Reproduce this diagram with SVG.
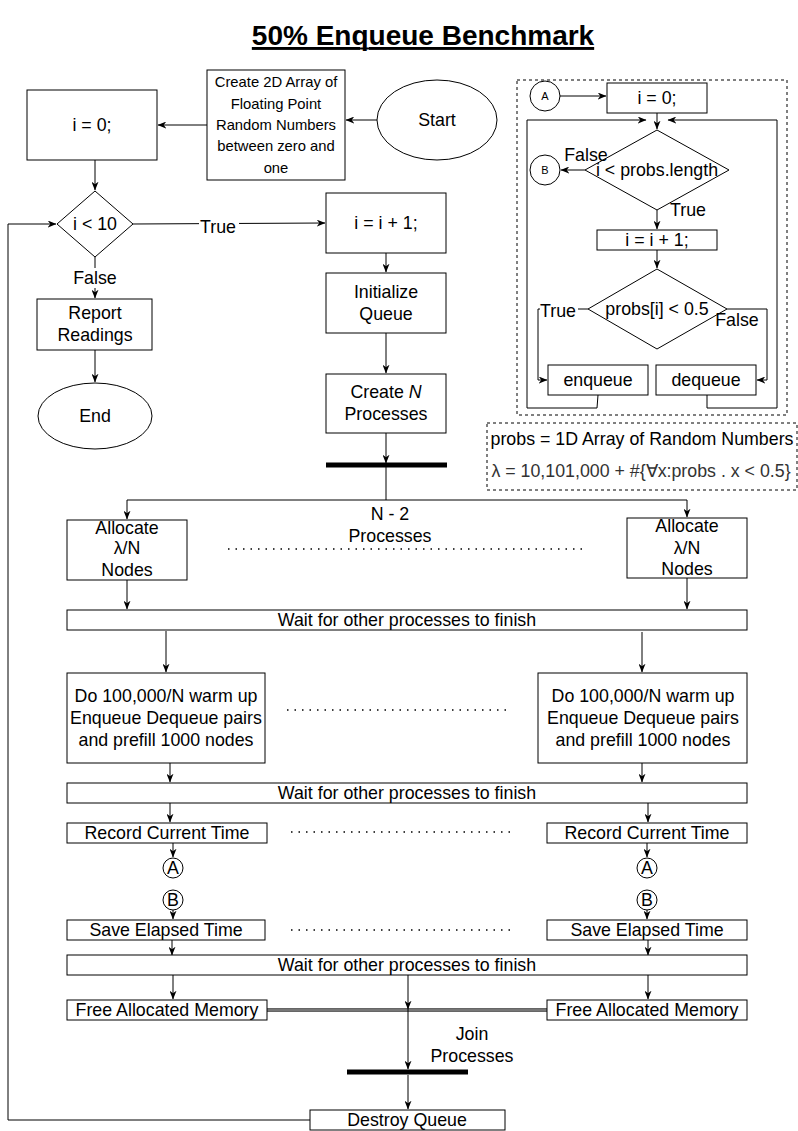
<svg xmlns="http://www.w3.org/2000/svg" width="798" height="1131" viewBox="0 0 798 1131">
<defs>
<marker id="ah" viewBox="0 0 10 8" refX="9.5" refY="4" markerWidth="9" markerHeight="7" orient="auto" markerUnits="userSpaceOnUse"><path d="M0,0 L10,4 L0,8 L3,4 z" fill="#000"/></marker>
<style>
text{font-family:"Liberation Sans",Arial,sans-serif;font-size:17.8px;fill:#000;text-anchor:middle}
.box{fill:#fff;stroke:#000;stroke-width:1}
.c{fill:none;stroke:#000;stroke-width:1}
.a{fill:none;stroke:#000;stroke-width:1;marker-end:url(#ah)}
.dash{fill:none;stroke:#000;stroke-width:1;stroke-dasharray:3 3}
.dot{fill:none;stroke:#000;stroke-width:1.5;stroke-dasharray:1.5 6}
.bar{fill:#000}
.s{font-size:14.8px}
.xs{font-size:11px}
</style>
</defs>
<rect width="798" height="1131" fill="#fff"/>
<g id="title"><text x="423" y="45" style="font-size:28px;font-weight:bold;text-decoration:underline">50% Enqueue Benchmark</text>
<line x1="252" y1="48.5" x2="594" y2="48.5" stroke="#000" stroke-width="2"/></g>

<g id="connectors">
<path class="a" d="M377,120 H346"/>
<path class="a" d="M207,125 H158"/>
<path class="a" d="M95,160 V190"/>
<path class="a" d="M133,224 L325,223"/>
<path class="a" d="M95,257 V298"/>
<path class="a" d="M95,350 V382"/>
<path class="a" d="M386,253 V272"/>
<path class="a" d="M386,333 V373"/>
<path class="a" d="M386,433 V463"/>
<path class="c" d="M386,467 V500"/>
<path class="c" d="M127,500 H687"/>
<path class="a" d="M127,500 V519"/>
<path class="a" d="M687,500 V517"/>
<path class="a" d="M127,580 V609"/>
<path class="a" d="M687,578 V609"/>
<path class="a" d="M166,631 V672"/>
<path class="a" d="M642,632 V672"/>
<path class="a" d="M170,763 V782"/>
<path class="a" d="M642,763 V782"/>
<path class="a" d="M170,803 V822"/>
<path class="a" d="M648,803 V822"/>
<path class="a" d="M173,843 V857"/>
<path class="a" d="M647,843 V857"/>
<path class="a" d="M173,910 V919"/>
<path class="a" d="M647,910 V919"/>
<path class="a" d="M172,940 V955"/>
<path class="a" d="M648,940 V955"/>
<path class="a" d="M173,975 V999"/>
<path class="a" d="M648,975 V999"/>
<path d="M267,1010 H547" fill="none" stroke="#333" stroke-width="3.5"/>
<path d="M267,1010 H547" fill="none" stroke="#bbb" stroke-width="1"/>
<path class="a" d="M408,975 V1009"/>
<path class="a" d="M408,1009 V1069"/>
<path class="a" d="M408,1075 V1109"/>
<path class="a" d="M310,1120 H8 V224 H56"/>
<path class="a" d="M560,96 H606"/>
<path class="a" d="M657,113 V129"/>
<path class="a" d="M598,395 L597,408 H527 V120 H646"/>
<path class="a" d="M707,395 V408 H777 V120 H668"/>
<path class="a" d="M585,170 H561"/>
<path class="a" d="M657,210 V229"/>
<path class="a" d="M657,250 V268"/>
<path class="a" d="M588,309 H538 V380 H547"/>
<path class="a" d="M727,309 H767 V380 H757"/>
<path class="dot" d="M228,549 H583"/>
<path class="dot" d="M287,710 H507"/>
<path class="dot" d="M291,832 H511"/>
<path class="dot" d="M291,930 H511"/>
</g>

<g id="start"><ellipse class="box" cx="437" cy="120" rx="60" ry="40"/><text x="437" y="126">Start</text></g>
<g id="create-array"><rect class="box" x="207" y="70" width="138" height="110"/>
<text class="s" x="276" y="87">Create 2D Array of</text><text class="s" x="276" y="109">Floating Point</text><text class="s" x="276" y="130">Random Numbers</text><text class="s" x="276" y="151">between zero and</text><text class="s" x="276" y="173">one</text></g>
<g id="init-i"><rect class="box" x="27" y="90" width="130" height="70"/><text x="92" y="131">i = 0;</text></g>
<g id="cond"><path class="box" d="M95,191 L133,224 L95,257 L57,224 Z"/><text x="95" y="230">i &lt; 10</text></g>
<g id="lbl-true"><rect x="199" y="216" width="40" height="20" fill="#fff"/><text x="218" y="233">True</text></g>
<g id="lbl-false"><rect x="72" y="268" width="46" height="20" fill="#fff"/><text x="95" y="284">False</text></g>
<g id="inc"><rect class="box" x="326" y="193" width="120" height="60"/><text x="386" y="229">i = i + 1;</text></g>
<g id="initq"><rect class="box" x="326" y="273" width="120" height="60"/><text x="386" y="298">Initialize</text><text x="386" y="320">Queue</text></g>
<g id="createn"><rect class="box" x="326" y="374" width="120" height="59"/><text x="386" y="398">Create <tspan font-style="italic">N</tspan></text><text x="386" y="420">Processes</text></g>
<g id="fork"><rect class="bar" x="326" y="462.5" width="121" height="5"/></g>
<g id="report"><rect class="box" x="37" y="299" width="115" height="51"/><text x="95" y="319">Report</text><text x="95" y="341">Readings</text></g>
<g id="end"><ellipse class="box" cx="95" cy="416" rx="57" ry="33"/><text x="95" y="422">End</text></g>

<g id="inset"><rect class="dash" x="517" y="80" width="270" height="335"/>
<circle class="box" cx="545" cy="96" r="15"/><text class="xs" x="545" y="100">A</text>
<rect class="box" x="607" y="83" width="100" height="30"/><text x="657" y="104">i = 0;</text>
<path class="box" d="M657,130 L729,170 L657,210 L585,170 Z"/><text x="657" y="176">i &lt; probs.length</text>
<text x="586" y="161">False</text>
<circle class="box" cx="545" cy="170" r="15"/><text class="xs" x="545" y="174">B</text>
<text x="688" y="216">True</text>
<rect class="box" x="597" y="230" width="120" height="20"/><text x="657" y="246">i = i + 1;</text>
<path class="box" d="M657,269 L727,309 L657,349 L588,309 Z"/><text x="657" y="315">probs[i] &lt; 0.5</text>
<rect x="540" y="301" width="38" height="20" fill="#fff"/><text x="558" y="317">True</text>
<text x="737" y="326">False</text>
<rect class="box" x="548" y="365" width="100" height="30"/><text x="598" y="386">enqueue</text>
<rect class="box" x="656" y="365" width="100" height="30"/><text x="706" y="386">dequeue</text>
</g>
<g id="probs-note"><rect class="dash" x="487" y="423" width="310" height="67"/>
<text x="642" y="445">probs = 1D Array of Random Numbers</text>
<text x="641" y="477" style="fill:#333">λ = 10,101,000 + #{∀x:probs . x &lt; 0.5}</text></g>

<g id="np-label"><text x="390" y="520">N - 2</text><text x="390" y="542">Processes</text></g>
<g id="alloc-l"><rect class="box" x="67" y="520" width="120" height="60"/><text x="127" y="534">Allocate</text><text x="127" y="554">λ/N</text><text x="127" y="576">Nodes</text></g>
<g id="alloc-r"><rect class="box" x="627" y="518" width="120" height="60"/><text x="687" y="532">Allocate</text><text x="687" y="554">λ/N</text><text x="687" y="575">Nodes</text></g>
<g id="wait1"><rect class="box" x="67" y="610" width="680" height="20"/><text x="407" y="626">Wait for other processes to finish</text></g>
<g id="warm-l"><rect class="box" x="67" y="673" width="198" height="90"/><text x="166" y="702">Do 100,000/N warm up</text><text x="166" y="724">Enqueue Dequeue pairs</text><text x="166" y="746">and prefill 1000 nodes</text></g>
<g id="warm-r"><rect class="box" x="538" y="673" width="209" height="90"/><text x="643" y="702">Do 100,000/N warm up</text><text x="643" y="724">Enqueue Dequeue pairs</text><text x="643" y="746">and prefill 1000 nodes</text></g>
<g id="wait2"><rect class="box" x="67" y="783" width="680" height="20"/><text x="407" y="799">Wait for other processes to finish</text></g>
<g id="rec-l"><rect class="box" x="67" y="823" width="200" height="20"/><text x="167" y="839">Record Current Time</text></g>
<g id="rec-r"><rect class="box" x="547" y="823" width="200" height="20"/><text x="647" y="839">Record Current Time</text></g>
<g id="a-l"><circle class="box" cx="173" cy="868" r="10"/><text x="173" y="874">A</text></g>
<g id="a-r"><circle class="box" cx="647" cy="868" r="10"/><text x="647" y="874">A</text></g>
<g id="b-l"><circle class="box" cx="173" cy="900" r="10"/><text x="173" y="906">B</text></g>
<g id="b-r"><circle class="box" cx="647" cy="900" r="10"/><text x="647" y="906">B</text></g>
<g id="save-l"><rect class="box" x="67" y="920" width="198" height="20"/><text x="166" y="936">Save Elapsed Time</text></g>
<g id="save-r"><rect class="box" x="547" y="920" width="200" height="20"/><text x="647" y="936">Save Elapsed Time</text></g>
<g id="wait3"><rect class="box" x="67" y="955" width="680" height="20"/><text x="407" y="971">Wait for other processes to finish</text></g>
<g id="free-l"><rect class="box" x="67" y="1000" width="200" height="20"/><text x="167" y="1016">Free Allocated Memory</text></g>
<g id="free-r"><rect class="box" x="547" y="1000" width="200" height="20"/><text x="647" y="1016">Free Allocated Memory</text></g>
<g id="join-label"><text x="472" y="1040">Join</text><text x="472" y="1062">Processes</text></g>
<g id="join"><rect class="bar" x="347" y="1069.5" width="121" height="5"/></g>
<g id="destroy"><rect class="box" x="310" y="1110" width="195" height="20"/><text x="407" y="1126">Destroy Queue</text></g>
</svg>
